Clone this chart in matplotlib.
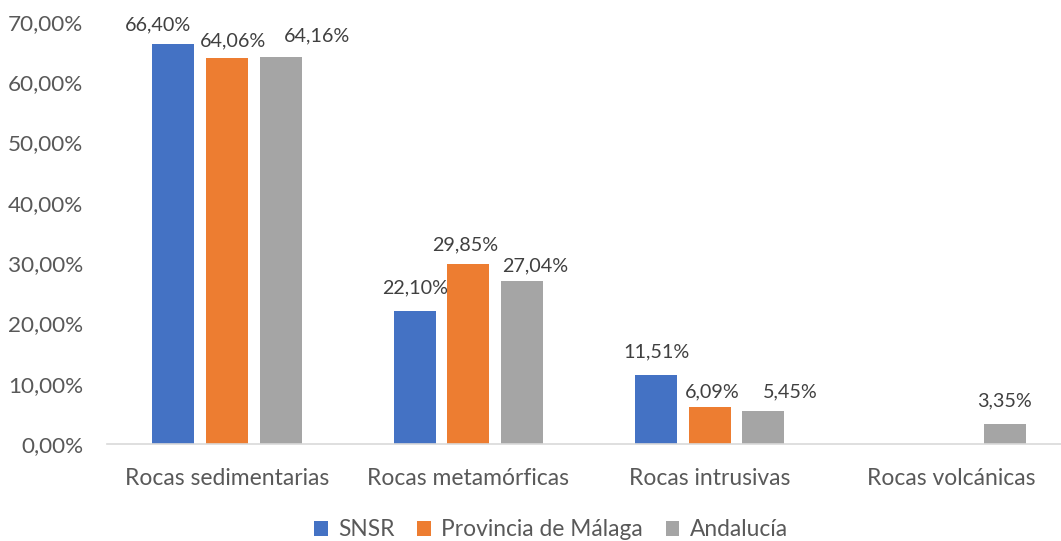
import matplotlib
matplotlib.use("Agg")
import matplotlib.pyplot as plt
import numpy as np

categories = ["Rocas sedimentarias", "Rocas metamórficas", "Rocas intrusivas", "Rocas volcánicas"]
series_names = ["SNSR", "Provincia de Málaga", "Andalucía"]
snsr = [66.40, 22.10, 11.51, None]
malaga = [64.06, 29.85, 6.09, None]
andalucia = [64.16, 27.04, 5.45, 3.35]
colors = ["#4472C4", "#ED7D31", "#A5A5A5"]
yticks = [0, 10, 20, 30, 40, 50, 60, 70]

# label placement offsets (pixels: dx, dy above bar top) per series/category
label_offsets = [
    [(-15, 13), (0, 17), (0, 17), None],
    [(6, 11), (-3, 14), (3, 10), None],
    [(36, 16), (13, 10), (27, 14), (0, 17)],
]

plt.rcParams['font.family'] = ['Lato', 'DejaVu Sans']

W, H = 1061, 541
fig = plt.figure(figsize=(W/100, H/100), dpi=100)
ax = fig.add_axes([107/W, 1-444/H, (1061-107)/W, (444-22)/H])

x = np.arange(len(categories))
bw = 0.174
offs = [-0.222, 0.0, 0.222]
for i, (vals, c, name) in enumerate(zip([snsr, malaga, andalucia], colors, series_names)):
    xs = [xi + offs[i] for xi, v in zip(x, vals) if v is not None]
    vs = [v for v in vals if v is not None]
    los = [o for o, v in zip(label_offsets[i], vals) if v is not None]
    ax.bar(xs, vs, width=bw, color=c, label=name)
    for xb, v, o in zip(xs, vs, los):
        ax.annotate(f"{v:.2f}%".replace('.', ','), (xb, v), xytext=o,
                    textcoords='offset pixels', ha='center', va='baseline',
                    fontsize=14.2, color='#404040', annotation_clip=False)

ax.set_xlim(-0.497, 3.456)
ax.set_ylim(0, 70)
ax.set_yticks(yticks)
ax.set_yticklabels([f"{t:.2f}%".replace('.', ',') for t in yticks], fontsize=16.2, color='#595959')
ax.set_xticks(x)
ax.set_xticklabels(categories, fontsize=16.5, color='#595959')
ax.tick_params(axis='both', length=0)
ax.tick_params(axis='x', pad=17)
ax.tick_params(axis='y', pad=17)
for s in ['top', 'right', 'left']:
    ax.spines[s].set_visible(False)
ax.spines['bottom'].set_color('#D9D9D9')
ax.spines['bottom'].set_linewidth(1.2)

leg = fig.legend(loc='center', bbox_to_anchor=(551/W, 1-530/H), ncol=3, frameon=False,
                 fontsize=16.4, handlelength=0.6, handleheight=0.6, handletextpad=0.45,
                 columnspacing=1.0)
for t in leg.get_texts():
    t.set_color('#595959')

fig.savefig("out.png", dpi=100)
